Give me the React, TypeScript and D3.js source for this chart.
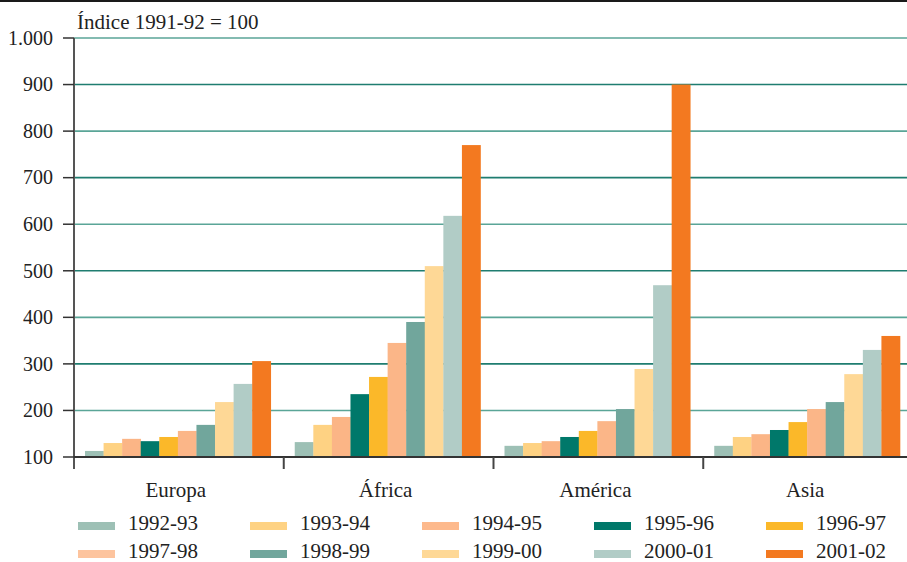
import React from 'react';
import * as d3 from 'd3';

const regions = ['Europa', 'África', 'América', 'Asia'];
const seasons = ['1992-93', '1993-94', '1994-95', '1995-96', '1996-97', '1997-98', '1998-99', '1999-00', '2000-01', '2001-02'];
const colors = ['#9dc0b5', '#fed283', '#fbb586', '#00786a', '#fbb829', '#fbb688', '#71a69c', '#fed896', '#b1ccc6', '#f37920'];
const legendColors = ['#9dc0b5', '#fed283', '#fdb98c', '#00786a', '#fbb829', '#fdc49e', '#71a69c', '#fed896', '#b1ccc6', '#f37920'];

// index values per region, one array per region, ordered like seasons
const europa = [113, 130, 139, 134, 143, 156, 169, 218, 257, 306];
const africa = [132, 169, 186, 235, 272, 345, 390, 510, 618, 770];
const america = [124, 130, 134, 143, 156, 177, 203, 289, 469, 900];
const asia = [124, 143, 149, 158, 175, 203, 218, 278, 330, 360];
const values = [europa, africa, america, asia];

const yTicks = [100, 200, 300, 400, 500, 600, 700, 800, 900, 1000];
const yTickLabels = ['100', '200', '300', '400', '500', '600', '700', '800', '900', '1.000'];

const W = 907;
const H = 562;
const font = '"Liberation Serif", "DejaVu Serif", serif';

export default function App() {
  const margin = { left: 74, top: 38, bottom: 457 };
  const y = d3.scaleLinear().domain([100, 1000]).range([margin.bottom, margin.top]);
  const x0 = d3.scaleBand().domain(regions).range([margin.left, 913]).padding(0);
  const x1 = d3
    .scaleBand()
    .domain(seasons)
    .range([11, x0.bandwidth() - 13])
    .padding(0);

  return (
    <svg width={W} height={H} style={{ position: 'absolute', left: 0, top: 0, background: '#fff' }} fontFamily={font}>
      {/* top border */}
      <line x1={0} x2={W} y1={1} y2={1} stroke="#1a1a1a" strokeWidth={2} />

      {/* gridlines */}
      {yTicks.slice(1).map((t, i) => (
        <line
          key={t}
          x1={margin.left}
          x2={W}
          y1={y(t)}
          y2={y(t)}
          stroke={i % 2 === 0 ? '#5aa597' : '#1f7d70'}
          strokeWidth={1.6}
        />
      ))}

      {/* bars */}
      {regions.map((r, ri) => (
        <g key={r} transform={`translate(${x0(r)},0)`}>
          {seasons.map((s, si) => (
            <rect
              key={s}
              x={x1(s)}
              y={y(values[ri][si])}
              width={x1.bandwidth() + 0.3}
              height={y(100) - y(values[ri][si])}
              fill={colors[si]}
            />
          ))}
        </g>
      ))}

      {/* y axis */}
      <line x1={margin.left} x2={margin.left} y1={margin.top} y2={469} stroke="#555" strokeWidth={2} />
      {yTicks.map((t, i) => (
        <g key={t}>
          <line x1={63} x2={margin.left} y1={y(t)} y2={y(t)} stroke="#333" strokeWidth={1.5} />
          <text x={53} y={y(t)} dy="0.34em" textAnchor="end" fontSize={20} fill="#222">
            {yTickLabels[i]}
          </text>
        </g>
      ))}

      {/* x axis */}
      <line x1={margin.left} x2={W} y1={margin.bottom} y2={margin.bottom} stroke="#333" strokeWidth={2} />
      {regions.slice(1).map(r => (
        <line key={r} x1={x0(r)} x2={x0(r)} y1={margin.bottom} y2={469} stroke="#444" strokeWidth={2} />
      ))}
      {regions.map(r => (
        <text key={r} x={x0(r)! + x0.bandwidth() / 2 - 3} y={497} textAnchor="middle" fontSize={21} fill="#222">
          {r}
        </text>
      ))}

      {/* title */}
      <text x={77} y={29} fontSize={21} fill="#222">
        Índice 1991-92 = 100
      </text>

      {/* legend */}
      {seasons.map((s, i) => {
        const col = i % 5;
        const row = Math.floor(i / 5);
        const lx = 78 + col * 172;
        const ly = 526 + row * 28;
        return (
          <g key={s}>
            <rect x={lx} y={ly - 4} width={37} height={8} fill={legendColors[i]} />
            <text x={lx + 50} y={ly + 4} fontSize={21} fill="#222">
              {s}
            </text>
          </g>
        );
      })}
    </svg>
  );
}
